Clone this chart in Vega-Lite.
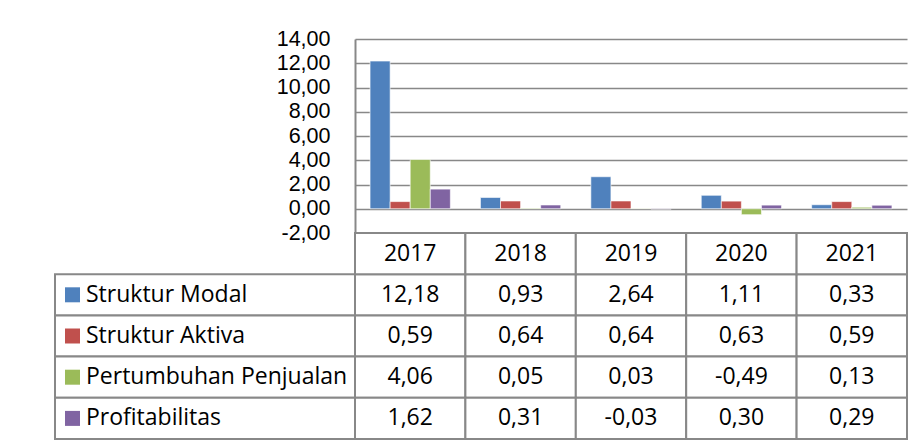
{
  "$schema": "https://vega.github.io/schema/vega-lite/v6.json",
  "padding": {"left": 54, "top": 28, "right": 0, "bottom": 0},
  "config": {
    "view": {"stroke": null},
    "font": "Open Sans",
    "locale": {"number": {"decimal": ",", "thousands": ".", "grouping": [3], "currency": ["", ""], "minus": "-"}},
    "text": {"fontSize": 23, "color": "#000000"},
    "axis": {"labelFont": "Liberation Sans", "labelFontSize": 21.5, "labelColor": "#000000"}
  },
  "datasets": {
    "d": [
      {"year": "2017", "series": "Struktur Modal", "value": 12.18},
      {"year": "2018", "series": "Struktur Modal", "value": 0.93},
      {"year": "2019", "series": "Struktur Modal", "value": 2.64},
      {"year": "2020", "series": "Struktur Modal", "value": 1.11},
      {"year": "2021", "series": "Struktur Modal", "value": 0.33},
      {"year": "2017", "series": "Struktur Aktiva", "value": 0.59},
      {"year": "2018", "series": "Struktur Aktiva", "value": 0.64},
      {"year": "2019", "series": "Struktur Aktiva", "value": 0.64},
      {"year": "2020", "series": "Struktur Aktiva", "value": 0.63},
      {"year": "2021", "series": "Struktur Aktiva", "value": 0.59},
      {"year": "2017", "series": "Pertumbuhan Penjualan", "value": 4.06},
      {"year": "2018", "series": "Pertumbuhan Penjualan", "value": 0.05},
      {"year": "2019", "series": "Pertumbuhan Penjualan", "value": 0.03},
      {"year": "2020", "series": "Pertumbuhan Penjualan", "value": -0.49},
      {"year": "2021", "series": "Pertumbuhan Penjualan", "value": 0.13},
      {"year": "2017", "series": "Profitabilitas", "value": 1.62},
      {"year": "2018", "series": "Profitabilitas", "value": 0.31},
      {"year": "2019", "series": "Profitabilitas", "value": -0.03},
      {"year": "2020", "series": "Profitabilitas", "value": 0.30},
      {"year": "2021", "series": "Profitabilitas", "value": 0.29}
    ]
  },
  "columns": 2,
  "spacing": 0,
  "bounds": "flush",
  "concat": [
    {
      "width": 300,
      "height": 194,
      "data": {"values": []},
      "mark": "point",
      "encoding": {}
    },
    {
      "width": 552,
      "height": 194,
      "data": {"name": "d"},
      "mark": {"type": "bar", "stroke": "#ffffff", "strokeOpacity": 0.6, "strokeWidth": 1},
      "encoding": {
        "x": {"field": "year", "type": "nominal", "scale": {"paddingInner": 0, "paddingOuter": 0}, "axis": null},
        "xOffset": {"field": "series", "type": "nominal",
          "scale": {"domain": ["Struktur Modal", "Struktur Aktiva", "Pertumbuhan Penjualan", "Profitabilitas"], "paddingInner": 0, "paddingOuter": 0.75}},
        "y": {"field": "value", "type": "quantitative",
          "scale": {"domain": [-2, 14], "nice": false, "zero": false},
          "axis": {"values": [-2, 0, 2, 4, 6, 8, 10, 12, 14], "format": ".2f", "title": null,
            "ticks": false, "labelPadding": 25, "grid": true, "gridColor": "#888888", "gridWidth": 1.5,
            "domain": true, "domainColor": "#888888", "domainWidth": 2}},
        "color": {"field": "series", "type": "nominal",
          "scale": {"domain": ["Struktur Modal", "Struktur Aktiva", "Pertumbuhan Penjualan", "Profitabilitas"],
            "range": ["#4F81BD", "#C0504D", "#9BBB59", "#8064A2"]}, "legend": null}
      }
    },
    {
      "width": 300,
      "height": 206,
      "data": {"name": "d"},
      "transform": [{"aggregate": [{"op": "count", "as": "n"}], "groupby": ["series"]}],
      "encoding": {
        "y": {"field": "series", "type": "nominal",
          "scale": {"domain": ["hdr", "Struktur Modal", "Struktur Aktiva", "Pertumbuhan Penjualan", "Profitabilitas"], "paddingInner": 0, "paddingOuter": 0},
          "axis": null}
      },
      "layer": [
        {
          "mark": {"type": "rect", "fill": "#ffffff", "stroke": "#888888", "strokeWidth": 2},
          "encoding": {"x": {"datum": "lbl", "type": "nominal", "scale": {"paddingInner": 0, "paddingOuter": 0}, "axis": null}}
        },
        {
          "mark": {"type": "square", "size": 225, "opacity": 1, "xOffset": 17.5},
          "encoding": {
            "x": {"datum": "lbl", "type": "nominal", "bandPosition": 0},
            "color": {"field": "series", "type": "nominal",
              "scale": {"domain": ["Struktur Modal", "Struktur Aktiva", "Pertumbuhan Penjualan", "Profitabilitas"],
                "range": ["#4F81BD", "#C0504D", "#9BBB59", "#8064A2"]}, "legend": null}
          }
        },
        {
          "mark": {"type": "text", "align": "left", "baseline": "middle", "dx": 31},
          "encoding": {
            "x": {"datum": "lbl", "type": "nominal", "bandPosition": 0},
            "text": {"field": "series"}
          }
        }
      ]
    },
    {
      "width": 552,
      "height": 206,
      "data": {"name": "d"},
      "encoding": {
        "x": {"field": "year", "type": "nominal", "scale": {"paddingInner": 0, "paddingOuter": 0}, "axis": null}
      },
      "layer": [
        {
          "mark": {"type": "rect", "fill": "#ffffff", "stroke": "#888888", "strokeWidth": 2},
          "encoding": {
            "y": {"field": "series", "type": "nominal",
              "scale": {"domain": ["hdr", "Struktur Modal", "Struktur Aktiva", "Pertumbuhan Penjualan", "Profitabilitas"], "paddingInner": 0, "paddingOuter": 0},
              "axis": null}
          }
        },
        {
          "transform": [{"aggregate": [{"op": "count", "as": "n"}], "groupby": ["year"]}],
          "mark": {"type": "rect", "fill": "#ffffff", "stroke": "#888888", "strokeWidth": 2},
          "encoding": {"y": {"datum": "hdr", "type": "nominal"}}
        },
        {
          "mark": {"type": "text", "baseline": "middle"},
          "encoding": {
            "y": {"field": "series", "type": "nominal"},
            "text": {"field": "value", "type": "quantitative", "format": ".2f"}
          }
        },
        {
          "transform": [{"aggregate": [{"op": "count", "as": "n"}], "groupby": ["year"]}],
          "mark": {"type": "text", "baseline": "middle"},
          "encoding": {
            "y": {"datum": "hdr", "type": "nominal"},
            "text": {"field": "year", "type": "nominal"}
          }
        }
      ]
    }
  ]
}
